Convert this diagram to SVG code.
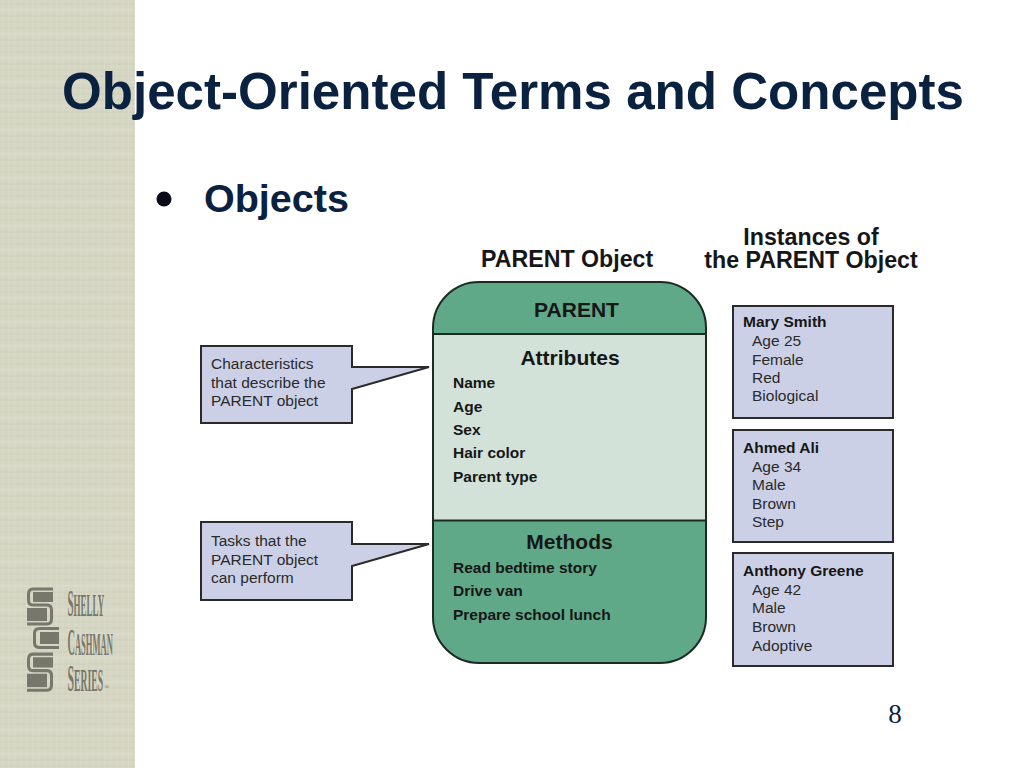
<svg xmlns="http://www.w3.org/2000/svg" width="1024" height="768" viewBox="0 0 1024 768">
<defs>
<style>
text{font-family:"Liberation Sans",Arial,sans-serif;fill:#161616}
.title{font-size:52px;font-weight:bold;fill:#0a2240}
.bullet{font-size:39.500px;font-weight:bold;fill:#0a2240}
.head{font-size:21px;font-weight:bold}
.cap{font-size:23.200px;font-weight:bold}
.b{font-size:15.500px;font-weight:bold}
.r{font-size:15.500px;fill:#2a2a2a}
.inst{fill:#ccd0e6;stroke:#2a2a2a;stroke-width:2}
.lt{font-family:"Liberation Serif",serif;font-weight:bold;fill:#77776c;font-size:23px}
.lc{font-size:28px}
.mark{fill:none;stroke:#77776c;stroke-width:3}
.block{fill:#77776c}
</style>
<pattern id="tex" width="6" height="24" patternUnits="userSpaceOnUse">
<rect width="6" height="24" fill="#d5d6c3"/>
<rect width="6" height="2" y="3" fill="#cdcfb9" opacity=".6"/>
<rect width="6" height="2" y="9" fill="#dcddcc" opacity=".6"/>
<rect width="6" height="2" y="15" fill="#cdcfb9" opacity=".6"/>
<rect width="6" height="2" y="21" fill="#cdcfb9" opacity=".4"/>
<rect width="1.500" height="24" x="2" fill="#dedfce" opacity=".35"/>
</pattern>
<clipPath id="top"><rect x="430" y="280" width="280" height="54"/></clipPath>
<clipPath id="bot"><rect x="430" y="521" width="280" height="145"/></clipPath>
<g id="book">
<path class="mark" d="M53 589H33Q28.500 589 28.500 594V600Q28.500 605 33 605H47Q51.500 605 51.500 610V619Q51.500 624 47 624H27"/>
<rect class="block" x="33" y="592" width="20" height="10"/>
<rect class="block" x="27" y="608" width="20" height="13"/>
</g>
</defs>
<rect width="1024" height="768" fill="#fff"/>
<rect id="sidebar" width="135" height="768" fill="url(#tex)"/>
<g id="logo">
<use href="#book"/>
<path class="mark" d="M59 628.500H40Q34.500 628.500 34.500 633V643Q34.500 647.500 40 647.500H59"/>
<rect class="block" x="40" y="632" width="19" height="12"/>
<use href="#book" transform="translate(0 65) scale(1 1.03) translate(0 -17)"/>
<text class="lt" transform="translate(67.500 616) scale(.39 1.38)"><tspan class="lc">S</tspan>HELLY</text>
<text class="lt" transform="translate(67.500 655) scale(.37 1.38)"><tspan class="lc">C</tspan>ASHMAN</text>
<text class="lt" transform="translate(67.500 691) scale(.42 1.38)"><tspan class="lc">S</tspan>ERIES</text>
<text class="lt" style="font-size:7px;font-weight:normal" x="104" y="689">®</text>
</g>
<text class="title" x="62" y="109" textLength="902" lengthAdjust="spacingAndGlyphs">Object-Oriented Terms and Concepts</text>
<circle cx="164" cy="199" r="7.500" fill="#0a0a1a"/>
<text class="bullet" x="204" y="212">Objects</text>
<text class="cap" x="481" y="267">PARENT Object</text>
<text class="cap" x="811" y="245" text-anchor="middle">Instances of</text>
<text class="cap" x="811" y="268" text-anchor="middle">the PARENT Object</text>
<g id="parent-object">
<rect x="433" y="282" width="273" height="381" rx="46" ry="46" fill="#d2e2d8"/>
<rect x="433" y="282" width="273" height="381" rx="46" ry="46" fill="#5fa888" clip-path="url(#top)"/>
<rect x="433" y="282" width="273" height="381" rx="46" ry="46" fill="#5fa888" clip-path="url(#bot)"/>
<rect x="433" y="282" width="273" height="381" rx="46" ry="46" fill="none" stroke="#1c2a24" stroke-width="2"/>
<path d="M433 334H706M433 520.500H706" stroke="#1c2a24" stroke-width="2"/>
<text class="head" x="576.500" y="317" text-anchor="middle">PARENT</text>
<text class="head" x="570" y="365" text-anchor="middle">Attributes</text>
<text class="head" x="569.500" y="549" text-anchor="middle">Methods</text>
<text class="b" x="453" y="388">Name</text>
<text class="b" x="453" y="412">Age</text>
<text class="b" x="453" y="435">Sex</text>
<text class="b" x="453" y="458">Hair color</text>
<text class="b" x="453" y="482">Parent type</text>
<text class="b" x="453" y="573">Read bedtime story</text>
<text class="b" x="453" y="596">Drive van</text>
<text class="b" x="453" y="620">Prepare school lunch</text>
</g>
<g id="connectors">
<path id="callout-1" d="M201 346H352V367L429 367L352 389V423H201Z" fill="#ccd0e6" stroke="#2a2a2a" stroke-width="2"/>
<path id="callout-2" d="M201 522H352V544L429 544L352 566V600H201Z" fill="#ccd0e6" stroke="#2a2a2a" stroke-width="2"/>
</g>
<g id="note-characteristics">
<text class="r" x="211" y="369">Characteristics</text>
<text class="r" x="211" y="388">that describe the</text>
<text class="r" x="211" y="406">PARENT object</text>
</g>
<g id="note-tasks">
<text class="r" x="211" y="546">Tasks that the</text>
<text class="r" x="211" y="565">PARENT object</text>
<text class="r" x="211" y="583">can perform</text>
</g>
<g id="instance-mary">
<rect class="inst" x="733" y="306" width="160" height="112"/>
<text class="b" x="743" y="327">Mary Smith</text>
<text class="r" x="752" y="346">Age 25</text>
<text class="r" x="752" y="365">Female</text>
<text class="r" x="752" y="383">Red</text>
<text class="r" x="752" y="401">Biological</text>
</g>
<g id="instance-ahmed">
<rect class="inst" x="733" y="430" width="160" height="112"/>
<text class="b" x="743" y="453">Ahmed Ali</text>
<text class="r" x="752" y="472">Age 34</text>
<text class="r" x="752" y="490">Male</text>
<text class="r" x="752" y="509">Brown</text>
<text class="r" x="752" y="527">Step</text>
</g>
<g id="instance-anthony">
<rect class="inst" x="733" y="553" width="160" height="113"/>
<text class="b" x="743" y="576">Anthony Greene</text>
<text class="r" x="752" y="595">Age 42</text>
<text class="r" x="752" y="613">Male</text>
<text class="r" x="752" y="632">Brown</text>
<text class="r" x="752" y="651">Adoptive</text>
</g>
<text x="895" y="723" text-anchor="middle" font-size="27" style="font-family:'Liberation Serif',serif;fill:#0a2240">8</text>
</svg>
